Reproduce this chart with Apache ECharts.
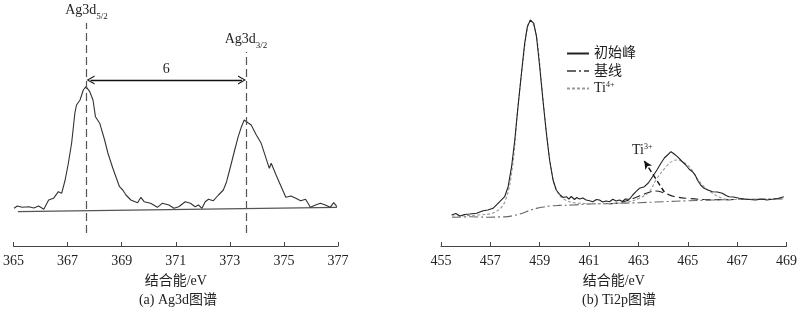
<!DOCTYPE html>
<html><head><meta charset="utf-8">
<script src="https://cdn.jsdelivr.net/npm/echarts@6/dist/echarts.min.js"></script>
<style>html,body{margin:0;padding:0;background:#fff}#c{width:800px;height:313px}</style>
</head><body><div id="c"></div>
<script>
// ---------- (a) Ag3d ----------
var agTicks = [365, 367, 369, 371, 373, 375, 377];
var agEnergy = [365.02,365.14,365.32,365.57,365.75,365.93,366.12,366.30,366.48,366.66,366.78,366.91,367.03,367.15,367.27,367.33,367.46,367.58,367.68,367.82,367.94,368.03,368.19,368.37,368.49,368.67,368.92,369.04,369.16,369.34,369.59,369.71,369.83,370.07,370.32,370.50,370.75,370.93,371.11,371.35,371.54,371.72,371.84,371.97,372.09,372.21,372.39,372.58,372.76,372.88,373.04,373.18,373.31,373.43,373.53,373.67,373.79,373.98,374.16,374.34,374.46,374.53,374.71,374.90,375.07,375.26,375.44,375.62,375.80,375.98,376.17,376.35,376.53,376.71,376.84,376.96];
var agRaw = [37.7,40,38.7,39.3,38,40,36.7,46,47.7,54.3,52.7,66,83,103,133,141,146,156,159.3,154.3,146,129.3,122.7,106,93,78,59.3,56,51,46,43.3,48.7,44.3,42.7,38.7,42.7,41,37.7,39.3,44.3,42.7,39.3,41,37.7,44.3,46.7,45.3,51,56,64.3,81,96,109.3,119.3,126,123.3,121,111,102.7,87.7,77.7,82.7,71,59.3,48.7,50,47.7,45.3,46.7,38.7,41,42.7,41,38.7,43.3,39.3];
var agBaseEnergy = [365.16, 376.96];
var agBase = [34.3, 38.7];
var agPeaks = [367.7, 373.6];          // Ag3d5/2, Ag3d3/2 positions
var agPeakLineTop = [223, 194];
var agSplit = '6';

// ---------- (b) Ti2p ----------
var tiTicks = [455, 457, 459, 461, 463, 465, 467, 469];
var tiEnergy = [455.43,455.60,455.77,455.95,456.17,456.44,456.71,456.90,457.11,457.38,457.58,457.72,457.86,457.99,458.12,458.26,458.39,458.50,458.62,458.76,458.87,459.00,459.13,459.27,459.40,459.54,459.67,459.83,459.95,460.08,460.18,460.28,460.41,460.50,460.61,460.75,460.88,461.02,461.15,461.30,461.42,461.55,461.69,461.83,461.96,462.10,462.23,462.35,462.47,462.63,462.77,462.90,463.04,463.24,463.40,463.57,463.75,463.91,464.05,464.18,464.32,464.45,464.58,464.75,464.92,465.05,465.19,465.30,465.39,465.52,465.66,465.82,466.00,466.20,466.40,466.55,466.67,466.85,467.08,467.30,467.50,467.75,468.00,468.20,468.42,468.65,468.89];
var tiRaw = [31,32.5,30,31.5,32,32.7,35.3,36,37.7,44.3,49.3,59.3,79.3,106,139.3,172.7,202.7,219.3,226,222.7,209.3,179.3,146,112.7,86,66,56,51,48.5,49.3,47,49.5,46.5,48.5,47,48,46,45.3,44.3,46.5,46,44,45,44.3,46.7,45,46,44.5,47,46.7,51,54.3,57.7,59.3,63,69.3,76,82.7,88,91,94.3,92,89.3,85,81,77,74.3,71,66,61,57.7,56,54.3,54,52.7,50.5,49.3,49,47.7,47,46.5,46,47,46,46.7,47.5,49.3];
var tiBaseEnergy = [455.45,456.2,456.9,457.4,457.7,457.95,458.2,458.45,458.7,458.9,459.15,459.4,459.8,460.34,461.02,462.0,463.0,464.0,465.0,466.0,467.0,468.0,468.9];
var tiBase = [28.7,29.2,28.8,29.1,29.4,30.5,32,34.3,36.5,37.9,39,40,40.6,41,42,42.6,43.3,44.3,45.2,46,46.5,46.8,47.2];
var ti4Energy = [455.45,456.5,457.2,457.6,457.9,458.1,458.3,458.5,458.62,458.75,458.9,459.1,459.3,459.5,459.7,460.0,460.5,461.5,462.3,462.63,463.04,463.44,463.71,464.12,464.38,464.58,464.79,465.06,465.33,465.66,466.0,466.4,466.79,467.48,468.89];
var ti4 = [30,31,34,45,80,135,180,218,225,221,205,155,108,72,55,46.5,43,42.3,43,44.3,47.7,54.3,66,79.3,85,86,84.3,79.3,69.3,59.3,52.7,47.7,46.5,46.8,47.2];
var ti3Energy = [461.83,462.35,462.84,463.24,463.5,463.71,464.05,464.45,465.06,465.66,466.39,467.08];
var ti3 = [42,44,48,52,54.3,55,53,49.5,47.5,46.5,46.2,46.6];
var ti3Arrow = [[464.05, 54], [463.24, 85]];
var legendNames = ['初始峰', '基线', 'Ti4+'];

// ---------- build ----------
function zip(xs, ys) { return xs.map(function (x, i) { return [x, ys[i]]; }); }
var FONT = "'Liberation Serif','Noto Sans CJK SC',serif";
var INK = '#222';

var chart = echarts.init(document.getElementById('c'), null, { renderer: 'canvas' });

function xAxisCfg(idx, ticks, name) {
  return {
    type: 'value', gridIndex: idx,
    min: ticks[0], max: ticks[ticks.length - 1], interval: ticks[1] - ticks[0],
    axisLine: { show: true, onZero: false, lineStyle: { color: '#444', width: 1 } },
    axisTick: { show: true, inside: true, length: 4, lineStyle: { color: '#444' } },
    axisLabel: { show: true, fontFamily: FONT, fontSize: 14, color: INK, margin: 8 },
    splitLine: { show: false },
    name: name, nameLocation: 'middle', nameGap: 26,
    nameTextStyle: { fontFamily: FONT, fontSize: 14, color: INK, lineHeight: 17 }
  };
}
function yAxisCfg(idx) {
  return { type: 'value', gridIndex: idx, min: 0, max: 246, show: false, splitLine: { show: false } };
}

var subRich = {
  m: { fontFamily: FONT, fontSize: 14, color: INK, lineHeight: 22 },
  s: { fontFamily: FONT, fontSize: 9, color: INK, lineHeight: 9, verticalAlign: 'bottom' },
  n: { fontFamily: FONT, fontSize: 14, color: INK, lineHeight: 15 },
  sup: { fontFamily: FONT, fontSize: 8, color: INK, lineHeight: 8, verticalAlign: 'top' }
};

var chevron = 'path://M0,10 L5,0 L10,10 L8.6,10 L5,2.6 L1.4,10 Z';
var arrowInset = 0.15;

var option = {
  animation: false,
  backgroundColor: '#fff',
  title: [
    { text: '(a) Ag3d图谱', left: 173, top: 288, textAlign: 'center',
      textStyle: { fontFamily: FONT, fontSize: 14, fontWeight: 'normal', color: INK } },
    { text: '(b) Ti2p图谱', left: 614, top: 288, textAlign: 'center',
      textStyle: { fontFamily: FONT, fontSize: 14, fontWeight: 'normal', color: INK } }
  ],
  grid: [
    { left: 9.5, right: 462, top: 0, bottom: 67, containLabel: false },
    { left: 441, right: 12.3, top: 0, bottom: 67, containLabel: false }
  ],
  xAxis: [xAxisCfg(0, agTicks, '结合能/eV'), xAxisCfg(1, tiTicks, '结合能/eV')],
  yAxis: [yAxisCfg(0), yAxisCfg(1)],
  legend: {
    data: legendNames, orient: 'vertical', left: 566, top: 46,
    itemWidth: 22, itemHeight: 10, itemGap: 2.5, padding: 0,
    itemStyle: { color: 'rgba(0,0,0,0)', borderWidth: 0, borderColor: 'rgba(0,0,0,0)' },
    textStyle: { fontFamily: FONT, fontSize: 14, color: INK, lineHeight: 15, rich: subRich },
    formatter: function (n) { return n === 'Ti4+' ? '{n|Ti}{sup|4+}' : n; }
  },
  series: [
    { type: 'line', name: 'agBase', xAxisIndex: 0, yAxisIndex: 0, data: zip(agBaseEnergy, agBase),
      symbol: 'none', lineStyle: { color: '#555', width: 1.2 } },
    { type: 'line', name: 'agRaw', xAxisIndex: 0, yAxisIndex: 0, data: zip(agEnergy, agRaw),
      symbol: 'none', lineStyle: { color: '#333', width: 1.1 },
      markLine: {
        silent: true, symbol: 'none',
        lineStyle: { color: '#555', type: [8, 4], width: 1.2 },
        data: [
          [ { coord: [agPeaks[0], 13], label: { show: true, position: 'end', distance: 2, formatter: '{m|Ag3d}{s|5/2}', rich: subRich } },
            { coord: [agPeaks[0], agPeakLineTop[0]] } ],
          [ { coord: [agPeaks[1], 13], label: { show: true, position: 'end', distance: 2, formatter: '{m|Ag3d}{s|3/2}', rich: subRich } },
            { coord: [agPeaks[1], agPeakLineTop[1]] } ],
          [ { coord: [agPeaks[0] + arrowInset, 166], symbol: chevron, symbolSize: [9, 8],
              lineStyle: { color: '#111', type: 'solid', width: 1.4 },
              label: { show: true, position: 'middle', distance: 4, formatter: agSplit, fontFamily: FONT, fontSize: 14, color: INK } },
            { coord: [agPeaks[1] - arrowInset, 166], symbol: chevron, symbolSize: [9, 8] } ]
        ]
      }
    },
    { type: 'line', name: '基线', xAxisIndex: 1, yAxisIndex: 1, data: zip(tiBaseEnergy, tiBase),
      symbol: 'none', smooth: 0.4, itemStyle: { color: '#666' }, lineStyle: { color: '#666', width: 1.1, type: [9, 3, 2, 3] } },
    { type: 'line', name: 'Ti3+', xAxisIndex: 1, yAxisIndex: 1, data: zip(ti3Energy, ti3),
      symbol: 'none', smooth: 0.4, itemStyle: { color: '#222' }, lineStyle: { color: '#222', width: 1.1, type: [8, 4] },
      markLine: {
        silent: true, symbol: ['none', 'arrow'], symbolSize: [6, 8],
        lineStyle: { color: '#111', type: [5, 3], width: 1.4 },
        data: [
          [ { coord: ti3Arrow[0] },
            { coord: ti3Arrow[1], label: { show: true, position: 'end', distance: 4, formatter: '{n|Ti}{sup|3+}', rich: subRich } } ]
        ]
      }
    },
    { type: 'line', name: 'Ti4+', xAxisIndex: 1, yAxisIndex: 1, data: zip(ti4Energy, ti4),
      symbol: 'none', smooth: 0.4, itemStyle: { color: '#999' }, lineStyle: { color: '#999', width: 1.1, type: [3, 2] } },
    { type: 'line', name: '初始峰', xAxisIndex: 1, yAxisIndex: 1, data: zip(tiEnergy, tiRaw),
      symbol: 'none', itemStyle: { color: '#222' }, lineStyle: { color: '#222', width: 1.1 } }
  ]
};
chart.setOption(option);
</script></body></html>
